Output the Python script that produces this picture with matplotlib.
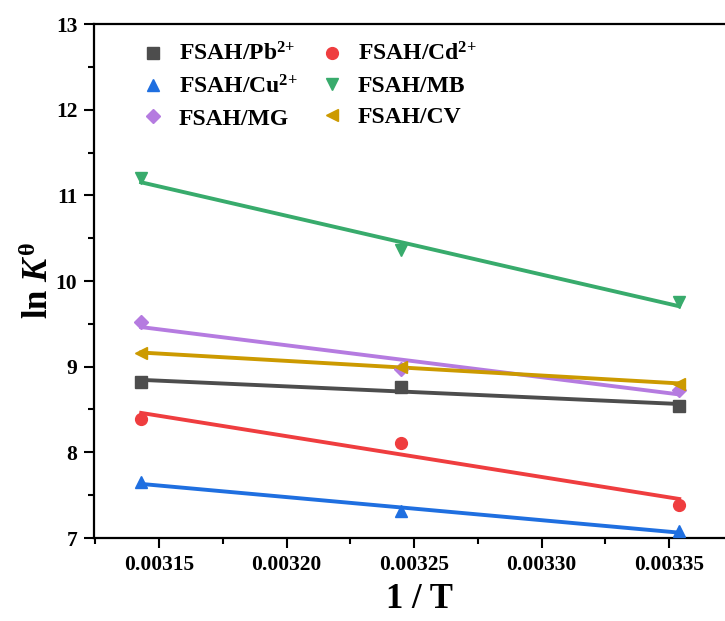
import numpy as np
import matplotlib.pyplot as plt
from matplotlib.ticker import MultipleLocator, FormatStrFormatter

plt.rcParams['font.family'] = 'Liberation Serif'
plt.rcParams['font.weight'] = 'bold'
plt.rcParams['mathtext.fontset'] = 'custom'
plt.rcParams['mathtext.rm'] = 'Liberation Serif:bold'
plt.rcParams['mathtext.it'] = 'Liberation Serif:italic:bold'
plt.rcParams['mathtext.bf'] = 'Liberation Serif:bold'

# 1/T values (318.15, 308.15, 298.15 K)
inv_T = [0.003143, 0.003245, 0.003354]

# ln K values
lnK_pb = [8.82, 8.76, 8.54]
lnK_cd = [8.39, 8.11, 7.39]
lnK_cu = [7.65, 7.32, 7.08]
lnK_mb = [11.20, 10.36, 9.75]
lnK_mg = [9.52, 8.97, 8.73]
lnK_cv = [9.16, 9.00, 8.80]

series = [
    ('FSAH/Pb$^{2{+}}$', lnK_pb, 's', '#4d4d4d', 8),
    ('FSAH/Cd$^{2{+}}$', lnK_cd, 'o', '#ef3d3f', 8.5),
    ('FSAH/Cu$^{2{+}}$', lnK_cu, '^', '#1f6fe0', 9),
    ('FSAH/MB', lnK_mb, 'v', '#38ab6c', 9),
    ('FSAH/MG', lnK_mg, 'D', '#b57be0', 7),
    ('FSAH/CV', lnK_cv, '<', '#cc9a00', 9),
]

fig = plt.figure(figsize=(7.25, 6.21), dpi=100)
ax = fig.add_axes([94 / 725, 83 / 621, 651.5 / 725, 514 / 621])

x = np.array(inv_T)
handles = {}
for label, y, mk, col, ms in series:
    k, b = np.polyfit(x, y, 1)
    ax.plot(x[[0, -1]], k * x[[0, -1]] + b, color=col, lw=2.8, zorder=2)
    h, = ax.plot(x, y, linestyle='none', marker=mk, color=col, ms=ms,
                 label=label, zorder=3, clip_on=False)
    handles[label] = h

# legend fills column-wise, so reorder to get the row layout of the original
order = [0, 2, 4, 1, 3, 5]
hs = [handles[series[i][0]] for i in order]
ax.legend(handles=hs, labels=[series[i][0] for i in order], ncol=2,
          loc='upper left', bbox_to_anchor=(0.058, 0.982), frameon=False,
          fontsize=17, handlelength=1.0, handletextpad=0.6,
          columnspacing=0.95, labelspacing=0.4, borderaxespad=0)

ax.set_xlim(0.0031245, 0.00338)
ax.set_ylim(7, 13)
ax.xaxis.set_major_locator(MultipleLocator(0.00005))
ax.xaxis.set_minor_locator(MultipleLocator(0.000025))
ax.xaxis.set_major_formatter(FormatStrFormatter('%.5f'))
ax.yaxis.set_major_locator(MultipleLocator(1))
ax.yaxis.set_minor_locator(MultipleLocator(0.5))

for s in ax.spines.values():
    s.set_linewidth(1.6)
ax.tick_params(which='major', direction='out', length=7, width=1.5,
               labelsize=15.5, pad=5)
ax.tick_params(which='minor', direction='out', length=4, width=1.5)
ax.tick_params(top=False, right=False, which='both')

ax.set_xlabel('1 / T', fontsize=25, fontweight='bold', labelpad=6)
ax.set_ylabel(r'ln $K^{\mathrm{θ}}$', fontsize=25, fontweight='bold', labelpad=0)

fig.savefig('out.png', dpi=100)
